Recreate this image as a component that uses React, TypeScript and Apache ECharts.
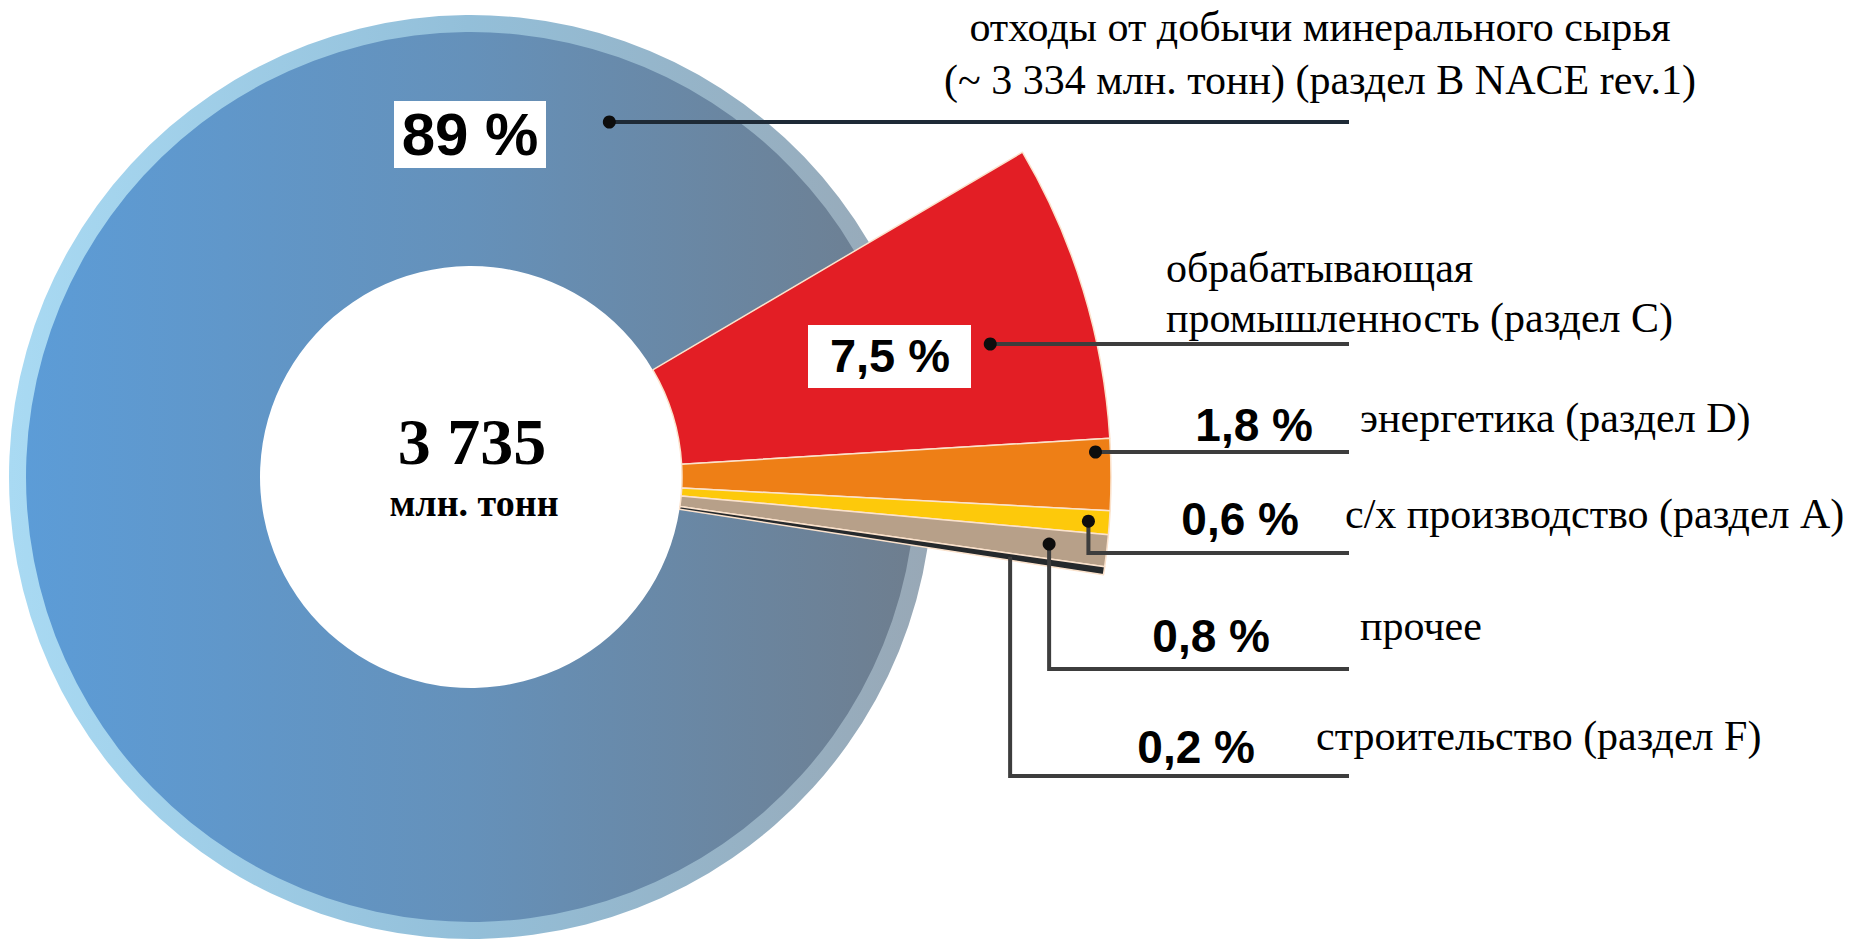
import React, { useEffect, useRef } from "react";
import * as echarts from "echarts";

// ---------- data ----------
const categories = [
  "отходы от добычи минерального сырья (~ 3 334 млн. тонн) (раздел B NACE rev.1)",
  "обрабатывающая промышленность (раздел C)",
  "энергетика (раздел D)",
  "с/х производство (раздел А)",
  "прочее",
  "строительство (раздел F)",
];
const categoryLines = [
  ["отходы от добычи минерального сырья", "(~ 3 334 млн. тонн) (раздел B NACE rev.1)"],
  ["обрабатывающая", "промышленность (раздел C)"],
  ["энергетика (раздел D)"],
  ["с/х производство (раздел А)"],
  ["прочее"],
  ["строительство (раздел F)"],
];
const shares = [89, 7.5, 1.8, 0.6, 0.8, 0.2];
const shareLabels = ["89 %", "7,5 %", "1,8 %", "0,6 %", "0,8 %", "0,2 %"];
const totalValue = "3 735";
const totalUnit = "млн. тонн";

// ---------- styling / layout ----------
const sliceColors = ["#6590b9", "#e31e25", "#ee7f16", "#fdc90b", "#b7a089", "#25292c"];
const CX = 471;
const CY = 477;
const R_IN = 211;
const R_MAIN = 445;
const R_RIM = 462;
const R_OUT = 640;
const START = 30.5;
const LINE_END = 1349;
const SERIF = "Liberation Serif";
const SANS = "Liberation Sans";

// per-slice leader layout
const rowY = [122, 344, 452, 553, 669, 776];
const anchorR = [381, 536, 625, 619, 582, 545];
const anchorMode = ["row", "row", "row", "mid", "mid", "mid"];
const showDot = [true, true, true, true, true, false];
// percentage label layout: x, baseline, align, size, box
const pctLayout = [
  { x: 470, y: 155, align: "center", size: 60, box: [394, 101, 152, 67] },
  { x: 890, y: 371, align: "center", size: 47, box: [808, 325, 163, 63] },
  { x: 1313, y: 441, align: "right", size: 46 },
  { x: 1299, y: 535, align: "right", size: 46 },
  { x: 1270, y: 652, align: "right", size: 46 },
  { x: 1255, y: 763, align: "right", size: 46 },
];
// category text layout: x, baselines, align
const catLayout = [
  { x: 1320, y: [41, 94], align: "center" },
  { x: 1166, y: [282, 332], align: "left" },
  { x: 1360, y: [432], align: "left" },
  { x: 1345, y: [528], align: "left" },
  { x: 1360, y: [640], align: "left" },
  { x: 1316, y: [750], align: "left" },
];
const CAT_SIZE = 42;

const transparent = "rgba(0,0,0,0)";

function textEl(x: number, baseline: number, text: string, family: string, size: number, align: string, weight = "normal") {
  return {
    type: "text",
    z: 100,
    silent: true,
    x,
    y: baseline - 0.34 * size,
    style: {
      x: 0,
      y: 0,
      text,
      fill: "#000",
      fontSize: size,
      fontFamily: family,
      fontWeight: weight,
      align,
      verticalAlign: "middle",
    },
  };
}

export default function App() {
  const ref = useRef<HTMLDivElement>(null);

  useEffect(() => {
    document.body.style.margin = "0";
    if (!ref.current) return;
    const chart = echarts.init(ref.current, undefined, { renderer: "svg" });

    const sum = shares.reduce((a, b) => a + b, 0);
    const deg = (v: number) => (v / sum) * 360;

    // slice angles (clockwise from START): small slices first, then the big one
    const angles: { a0: number; a1: number }[] = new Array(shares.length);
    let a = START;
    for (let i = 1; i < shares.length; i++) {
      const a1 = a - deg(shares[i]);
      angles[i] = { a0: a, a1 };
      a = a1;
    }
    angles[0] = { a0: a, a1: START - 360 };

    const smallIdx = shares.map((_, i) => i).filter((i) => i > 0);

    const mainGradient = new echarts.graphic.LinearGradient(0, 0, 1, 0, [
      { offset: 0, color: "#5c9cd7" },
      { offset: 0.5, color: "#6591ba" },
      { offset: 1, color: "#6e7e8f" },
    ]);
    const rimGradient = new echarts.graphic.LinearGradient(0, 0, 1, 0, [
      { offset: 0, color: "#a9daf3" },
      { offset: 0.5, color: "#93bfd9" },
      { offset: 1, color: "#98a8b6" },
    ]);

    const bigRingData = (color: any) => [
      ...smallIdx.map((i) => ({ value: shares[i], name: "gap" + i, itemStyle: { color: transparent, borderWidth: 0 } })),
      { value: shares[0], name: categories[0], itemStyle: { color, borderWidth: 0 } },
    ];

    const basePie = {
      type: "pie",
      center: [CX, CY],
      startAngle: START,
      clockwise: true,
      silent: true,
      avoidLabelOverlap: false,
      label: { show: false },
      labelLine: { show: false },
      emphasis: { disabled: true },
    };

    // leader lines, dots, labels
    const graphics: any[] = [];
    for (let i = 0; i < shares.length; i++) {
      let ax: number, ay: number;
      if (anchorMode[i] === "row") {
        const dy = CY - rowY[i];
        ax = CX + Math.sqrt(anchorR[i] * anchorR[i] - dy * dy);
        ay = rowY[i];
      } else {
        const mid = ((angles[i].a0 + angles[i].a1) / 2) * (Math.PI / 180);
        ax = CX + anchorR[i] * Math.cos(mid);
        ay = CY - anchorR[i] * Math.sin(mid);
      }
      const pts =
        anchorMode[i] === "row"
          ? [[ax, ay], [LINE_END, rowY[i]]]
          : [[ax, ay], [ax, rowY[i]], [LINE_END, rowY[i]]];
      graphics.push({
        type: "polyline",
        z: 90,
        silent: true,
        shape: { points: pts },
        style: {
          stroke: i === 0 ? "#1e2a36" : "#3d3d3d",
          lineWidth: 4,
          fill: null,
          lineJoin: "miter",
        },
      });
      if (showDot[i]) {
        graphics.push({
          type: "circle",
          z: 95,
          silent: true,
          shape: { cx: ax, cy: ay, r: 6.5 },
          style: { fill: "#0d0d0d" },
        });
      }
      const p = pctLayout[i];
      if (p.box) {
        graphics.push({
          type: "rect",
          z: 98,
          silent: true,
          shape: { x: p.box[0], y: p.box[1], width: p.box[2], height: p.box[3] },
          style: { fill: "#ffffff" },
        });
      }
      graphics.push(textEl(p.x, p.y, shareLabels[i], SANS, p.size, p.align, "bold"));
      const c = catLayout[i];
      categoryLines[i].forEach((line, k) => {
        graphics.push(textEl(c.x, c.y[k], line, SERIF, CAT_SIZE, c.align));
      });
    }
    graphics.push(textEl(472, 464, totalValue, SERIF, 66, "center", "bold"));
    graphics.push(textEl(474, 516, totalUnit, SERIF, 38, "center", "bold"));

    chart.setOption({
      animation: false,
      backgroundColor: "#ffffff",
      tooltip: { show: false },
      series: [
        { ...basePie, name: "rim", radius: [R_MAIN - 2, R_RIM], data: bigRingData(rimGradient), z: 1 },
        { ...basePie, name: "main", radius: [R_IN, R_MAIN], data: bigRingData(mainGradient), z: 2 },
        {
          ...basePie,
          name: "sectors",
          radius: [R_IN, R_OUT],
          z: 3,
          data: [
            ...smallIdx.map((i) => ({
              value: shares[i],
              name: categories[i],
              itemStyle: { color: sliceColors[i], borderColor: "#fbe2cc", borderWidth: 1.5 },
            })),
            { value: shares[0], name: "gap0", itemStyle: { color: transparent, borderWidth: 0 } },
          ],
        },
      ],
      graphic: { elements: graphics },
    });

    return () => chart.dispose();
  }, []);

  return <div ref={ref} style={{ width: 1856, height: 942 }} />;
}
